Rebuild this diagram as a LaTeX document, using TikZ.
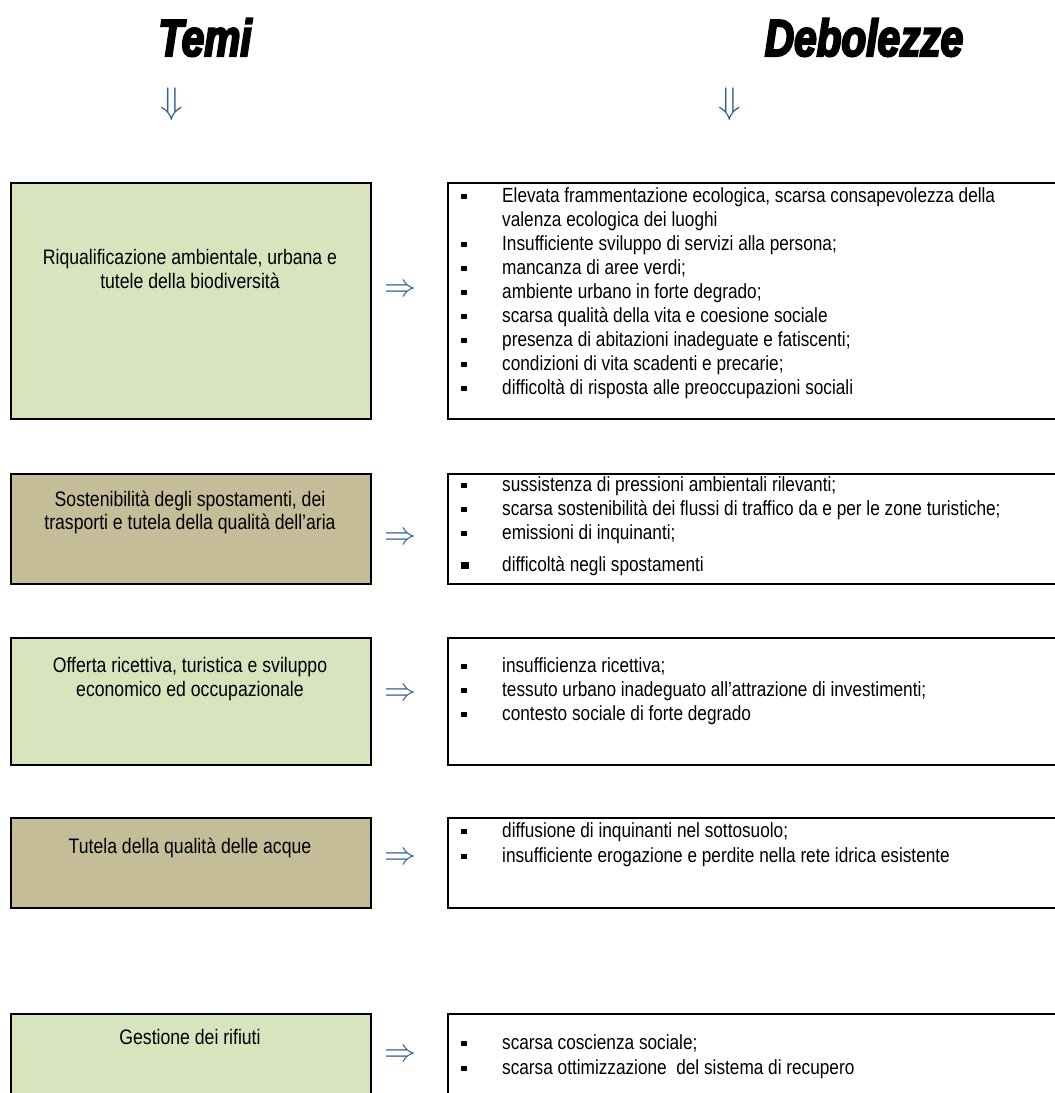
\RequirePackage{fix-cm}
\documentclass[tikz,border=0pt]{standalone}
\usepackage{fontspec}
\setmainfont{Liberation Sans}[FakeStretch=0.84]
\newfontfamily\titlefont{Liberation Sans Bold Italic}[FakeStretch=0.78,FakeBold=4]
\definecolor{boxgreen}{RGB}{215,228,189}
\definecolor{boxtan}{RGB}{196,189,151}
\definecolor{arrowblue}{RGB}{54,95,145}
\newcommand{\bul}{\makebox[41pt][l]{\raisebox{2.6pt}{\rule{5.5pt}{5.5pt}}}}
\newcommand{\bigbul}{\makebox[41pt][l]{\raisebox{2pt}{\rule{7.5pt}{7.5pt}}}}
\tikzset{
  leftbox/.style={draw=black, line width=2.2pt, fill=#1, inner sep=0pt, anchor=north west, minimum width=360pt},
  rightbox/.style={draw=black, line width=2.2pt, fill=white, inner sep=0pt, anchor=north west, minimum width=616pt},
  lefttext/.style={anchor=base, inner sep=0pt, font=\fontsize{21}{24}\selectfont},
  item/.style={anchor=base west, inner sep=0pt, font=\fontsize{20.5}{24}\selectfont},
  rarrow/.style={text=arrowblue, inner sep=0pt, font=\fontsize{32}{32}\selectfont},
  darrow/.style={text=arrowblue, inner sep=0pt, font=\fontsize{37}{37}\selectfont},
  titletext/.style={anchor=base, inner sep=0pt, font=\titlefont\fontsize{52}{52}\selectfont}
}
\begin{document}
\begin{tikzpicture}[x=1pt,y=-1pt]
\useasboundingbox (0,0) rectangle (1055,1093);
% titles
\node[titletext] (temi) at (205,56) {Temi};
\node[titletext] (deb) at (864,56) {Debolezze};
\node[darrow] (d1) at (172,104) {$\Downarrow$};
\node[darrow] (d2) at (730,104) {$\Downarrow$};
% left boxes
\node[leftbox=boxgreen, minimum height=236pt] (L1) at (10,182) {};
\node[leftbox=boxtan, minimum height=110pt] (L2) at (10,473) {};
\node[leftbox=boxgreen, minimum height=127pt] (L3) at (10,637) {};
\node[leftbox=boxtan, minimum height=90pt] (L4) at (10,817) {};
\node[leftbox=boxgreen, minimum height=100pt] (L5) at (10,1013) {};
% right boxes
\node[rightbox, minimum height=236pt] (R1) at (447,182) {};
\node[rightbox, minimum height=110pt] (R2) at (447,473) {};
\node[rightbox, minimum height=127pt] (R3) at (447,637) {};
\node[rightbox, minimum height=90pt] (R4) at (447,817) {};
\node[rightbox, minimum height=100pt] (R5) at (447,1013) {};
% arrows between
\node[rarrow] (a1) at (400,291) {$\Rightarrow$};
\node[rarrow] (a2) at (400,539) {$\Rightarrow$};
\node[rarrow] (a3) at (400,695) {$\Rightarrow$};
\node[rarrow] (a4) at (400,859) {$\Rightarrow$};
\node[rarrow] (a5) at (400,1056) {$\Rightarrow$};
% left texts
\node[lefttext] (l1a) at (190,264) {Riqualificazione ambientale, urbana e};
\node[lefttext] (l1b) at (190,288) {tutele della biodiversità};
\node[lefttext] (l2a) at (190,506) {Sostenibilità degli spostamenti, dei};
\node[lefttext] (l2b) at (190,529) {trasporti e tutela della qualità dell’aria};
\node[lefttext] (l3a) at (190,672) {Offerta ricettiva, turistica e sviluppo};
\node[lefttext] (l3b) at (190,696) {economico ed occupazionale};
\node[lefttext] (l4a) at (190,853) {Tutela della qualità delle acque};
\node[lefttext] (l5a) at (190,1044) {Gestione dei rifiuti};
% right texts box 1
\node[item] (r1a) at (461,202) {\bul Elevata frammentazione ecologica, scarsa consapevolezza della};
\node[item] (r1b) at (502,226) {valenza ecologica dei luoghi};
\node[item] (r1c) at (461,250) {\bul Insufficiente sviluppo di servizi alla persona;};
\node[item] (r1d) at (461,274) {\bul mancanza di aree verdi;};
\node[item] (r1e) at (461,298) {\bul ambiente urbano in forte degrado;};
\node[item] (r1f) at (461,322) {\bul scarsa qualità della vita e coesione sociale};
\node[item] (r1g) at (461,346) {\bul presenza di abitazioni inadeguate e fatiscenti;};
\node[item] (r1h) at (461,370) {\bul condizioni di vita scadenti e precarie;};
\node[item] (r1i) at (461,394) {\bul difficoltà di risposta alle preoccupazioni sociali};
% box 2
\node[item] (r2a) at (461,491) {\bul sussistenza di pressioni ambientali rilevanti;};
\node[item] (r2b) at (461,515) {\bul scarsa sostenibilità dei flussi di traffico da e per le zone turistiche;};
\node[item] (r2c) at (461,539) {\bul emissioni di inquinanti;};
\node[item] (r2d) at (461,571) {\bigbul difficoltà negli spostamenti};
% box 3
\node[item] (r3a) at (461,672) {\bul insufficienza ricettiva;};
\node[item] (r3b) at (461,696) {\bul tessuto urbano inadeguato all’attrazione di investimenti;};
\node[item] (r3c) at (461,720) {\bul contesto sociale di forte degrado};
% box 4
\node[item] (r4a) at (461,837) {\bul diffusione di inquinanti nel sottosuolo;};
\node[item] (r4b) at (461,862) {\bul insufficiente erogazione e perdite nella rete idrica esistente};
% box 5
\node[item] (r5a) at (461,1049) {\bul scarsa coscienza sociale;};
\node[item] (r5b) at (461,1074) {\bul scarsa ottimizzazione\ \ del sistema di recupero};
\end{tikzpicture}
\end{document}
